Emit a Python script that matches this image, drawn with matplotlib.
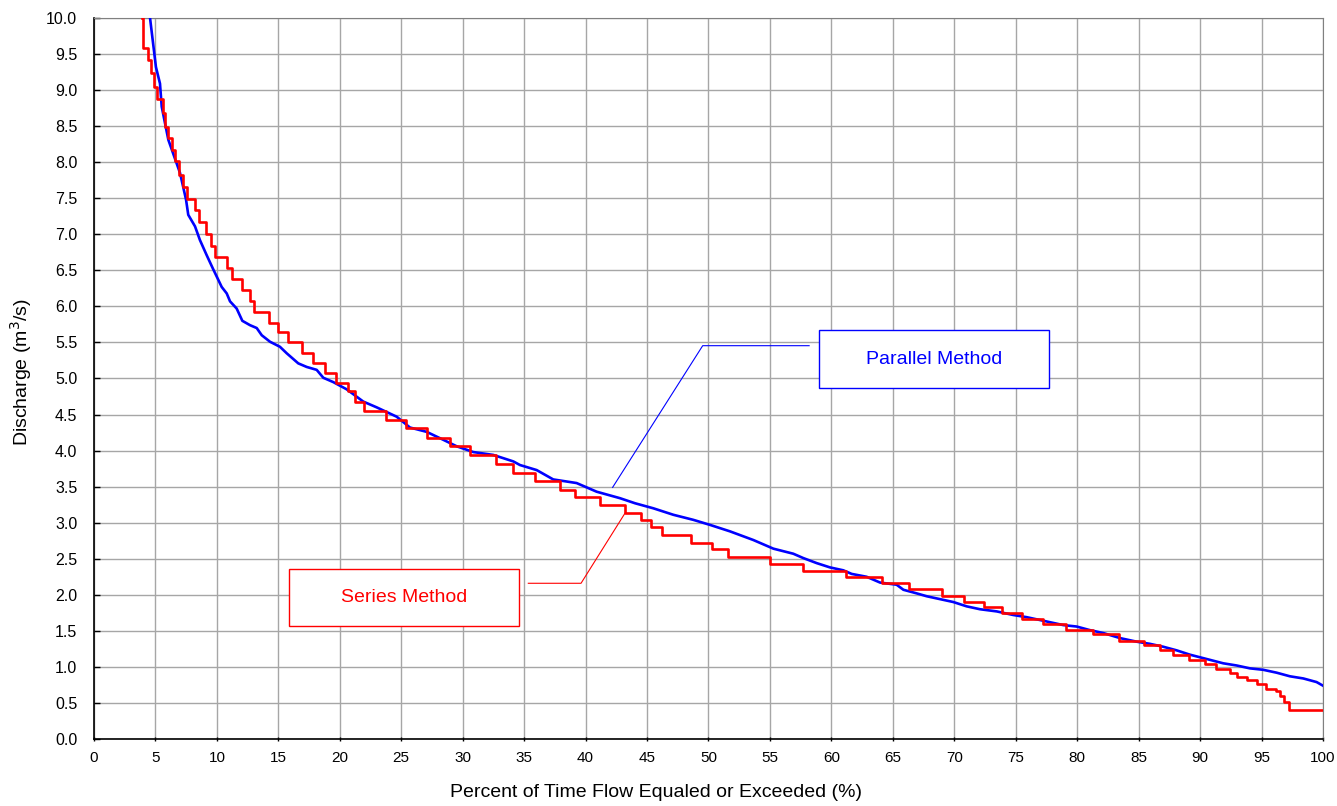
import numpy as np
import matplotlib
matplotlib.use("Agg")
import matplotlib.pyplot as plt
from matplotlib.patches import Rectangle

plt.rcParams['font.family'] = ['Liberation Sans', 'DejaVu Sans']

# series method: stepped duration curve (value holds until next x)
series_x = [3.88, 4.0, 4.42, 4.61, 4.91, 5.15, 5.64, 5.78, 6.05, 6.32, 6.59, 6.94, 7.21, 7.54,
            8.22, 8.57, 9.11, 9.52, 9.85, 10.85, 11.26, 12.02, 12.69, 13.05, 14.24, 15.0, 15.8,
            16.9, 17.85, 18.8, 19.7, 20.7, 21.2, 22.0, 23.8, 25.4, 27.1, 29.0, 30.6, 32.7, 34.1,
            35.9, 37.9, 39.1, 41.2, 43.2, 44.5, 45.3, 46.2, 48.6, 50.3, 51.6, 55.0, 57.7, 61.2,
            64.1, 66.3, 69.0, 70.8, 72.4, 73.9, 75.5, 77.2, 79.1, 81.3, 83.4, 85.4, 86.7, 87.8,
            89.1, 90.4, 91.3, 92.4, 93.0, 93.8, 94.6, 95.4, 96.2, 96.5, 96.8, 97.2, 100.0]
series_q = [10.0, 9.59, 9.42, 9.23, 9.04, 8.87, 8.68, 8.49, 8.33, 8.17, 8.01, 7.82, 7.66, 7.49,
            7.33, 7.17, 7.00, 6.84, 6.68, 6.53, 6.38, 6.23, 6.08, 5.92, 5.77, 5.64, 5.51,
            5.36, 5.22, 5.08, 4.94, 4.82, 4.68, 4.55, 4.43, 4.31, 4.18, 4.06, 3.94, 3.81, 3.69,
            3.58, 3.46, 3.36, 3.25, 3.13, 3.04, 2.94, 2.83, 2.72, 2.63, 2.53, 2.43, 2.33, 2.25,
            2.17, 2.08, 1.99, 1.90, 1.83, 1.75, 1.66, 1.59, 1.51, 1.45, 1.36, 1.31, 1.23, 1.17,
            1.10, 1.04, 0.97, 0.91, 0.86, 0.82, 0.76, 0.70, 0.66, 0.59, 0.52, 0.40, 0.40]

# parallel method: smooth-ish curve
parallel_x = [4.56, 5.04, 5.37, 5.51, 6.05, 7.0, 7.49, 7.67, 8.22, 8.62, 9.17, 9.66, 10.39,
              10.80, 11.07, 11.61, 12.07, 12.69, 13.24, 13.65, 14.32, 15.13, 15.68, 16.62,
              17.31, 18.12, 18.66, 19.47, 20.56, 21.91, 23.0, 24.63, 25.71, 27.07, 28.42,
              29.51, 30.86, 32.49, 34.12, 34.66, 36.02, 37.37, 39.27, 40.90, 42.80, 44.02,
              45.51, 47.14, 48.76, 50.12, 51.75, 53.65, 55.28, 56.9, 57.71, 58.8, 59.89,
              60.97, 61.65, 62.87, 63.96, 65.31, 65.86, 66.94, 67.76, 68.84, 69.92, 71.01,
              72.09, 73.45, 74.80, 75.89, 77.52, 78.87, 79.96, 81.04, 82.12, 83.48, 84.84,
              85.92, 87.0, 88.09, 89.17, 90.53, 91.89, 92.97, 94.06, 95.14, 96.23, 97.31,
              98.40, 99.48, 100.0]
parallel_q = [10.0, 9.32, 9.09, 8.77, 8.31, 7.85, 7.48, 7.27, 7.11, 6.92, 6.71, 6.53, 6.27,
              6.18, 6.07, 5.97, 5.80, 5.74, 5.70, 5.60, 5.51, 5.44, 5.35, 5.21,
              5.16, 5.12, 5.01, 4.95, 4.85, 4.68, 4.60, 4.47, 4.32, 4.26, 4.15,
              4.06, 3.98, 3.94, 3.85, 3.80, 3.73, 3.60, 3.55, 3.43, 3.34, 3.27,
              3.20, 3.11, 3.04, 2.97, 2.88, 2.76, 2.64, 2.57, 2.51, 2.44, 2.38,
              2.34, 2.29, 2.25, 2.17, 2.14, 2.07, 2.02, 1.98, 1.94, 1.90, 1.84,
              1.80, 1.77, 1.72, 1.69, 1.63, 1.58, 1.56, 1.51, 1.47, 1.40, 1.35,
              1.32, 1.28, 1.23, 1.17, 1.11, 1.05, 1.02, 0.98, 0.96, 0.92, 0.87,
              0.84, 0.79, 0.74]

fig = plt.figure(figsize=(13.37, 8.06), dpi=100)
ax = fig.add_axes([0.0703, 0.0831, 0.9192, 0.8946])

ax.plot(parallel_x, parallel_q, color="#0000ff", lw=1.9, zorder=3)
ax.plot(series_x, series_q, color="#ff0000", lw=1.9, drawstyle="steps-post", zorder=4)

ax.set_xlim(0, 100)
ax.set_ylim(0, 10)
ax.set_xticks(np.arange(0, 101, 5))
ax.set_yticks(np.arange(0, 10.01, 0.5))
ax.set_yticklabels([f"{v:.1f}" for v in np.arange(0, 10.01, 0.5)])
ax.tick_params(axis="x", labelsize=11, length=3, width=1, direction="inout", pad=7)
ax.tick_params(axis="y", labelsize=11.5, length=4, width=1, direction="in", pad=12)
ax.grid(True, color="#a6a6a6", lw=1)
ax.set_axisbelow(True)
for s in ["top", "right"]:
    ax.spines[s].set_color("#808080")
for s in ["left", "bottom"]:
    ax.spines[s].set_color("#000000")
    ax.spines[s].set_linewidth(1.2)

ax.set_xlabel("Percent of Time Flow Equaled or Exceeded (%)", fontsize=14)
ax.xaxis.set_label_coords(0.457, -0.063)
ax.set_ylabel("Discharge (m$^3$/s)", fontsize=14)
ax.yaxis.set_label_coords(-0.049, 0.509)

# labels with leader lines
ax.plot([42.2, 49.53, 58.19], [3.49, 5.455, 5.455], color="#0000ff", lw=0.8, zorder=5)
ax.add_patch(Rectangle((59.0, 4.87), 18.7, 0.8, fill=True, facecolor="white",
                       edgecolor="#0000ff", lw=1, zorder=6))
ax.text(68.35, 5.27, "Parallel Method", color="#0000ff", fontsize=14,
        ha="center", va="center", zorder=7)

ax.plot([35.34, 39.63, 43.2], [2.16, 2.16, 3.13], color="#ff0000", lw=0.8, zorder=5)
ax.add_patch(Rectangle((15.87, 1.57), 18.71, 0.79, fill=True, facecolor="white",
                       edgecolor="#ff0000", lw=1, zorder=6))
ax.text(25.2, 1.96, "Series Method", color="#ff0000", fontsize=14,
        ha="center", va="center", zorder=7)

fig.savefig("out.png", dpi=100)
